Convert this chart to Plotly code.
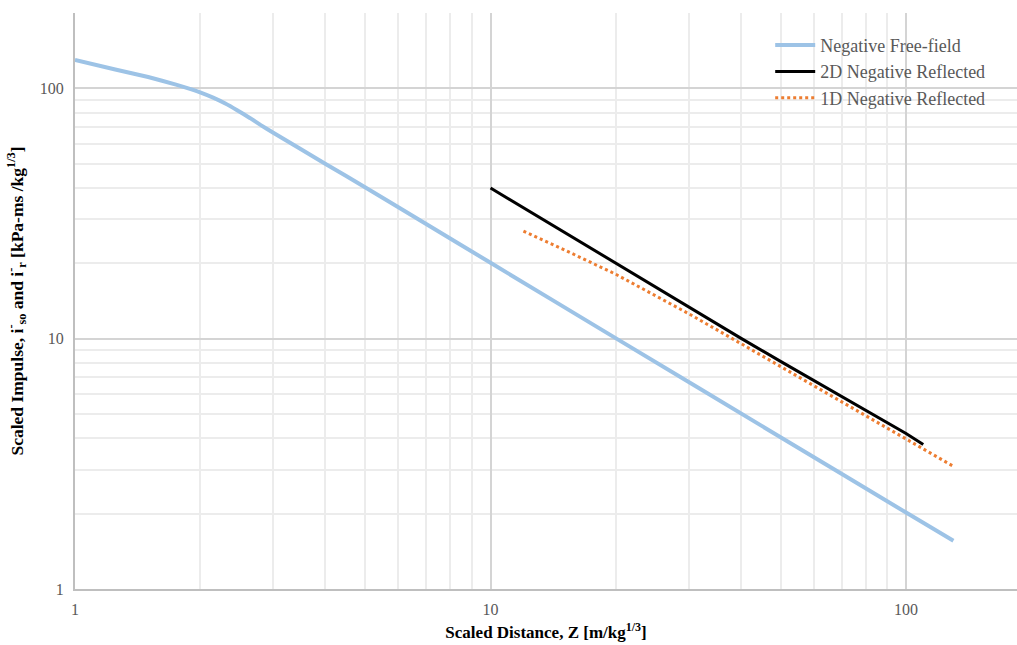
import plotly.graph_objects as go

# Negative free-field
ff_z = [1, 1.25, 1.5, 1.75, 2, 2.15, 2.3, 2.45, 2.64, 2.8, 3, 4, 5, 7, 10, 20, 50, 100, 130]
ff_i = [130, 119, 111, 103.5, 96.4, 91.8, 87, 82, 76, 71.3, 66.5, 50, 40.2, 28.7, 20.1, 10.05, 4.03, 2.02, 1.56]

# 2D negative reflected
r2_z = [10, 20, 30, 40, 50, 60, 70, 80, 90, 100, 110]
r2_i = [40, 20, 13.33, 10.05, 8.1, 6.8, 5.9, 5.2, 4.64, 4.18, 3.78]

# 1D negative reflected
r1_z = [12, 15, 20, 25, 30, 40, 50, 60, 80, 100, 130]
r1_i = [26.9, 22.7, 18.1, 14.88, 12.58, 9.57, 7.72, 6.48, 4.92, 3.97, 3.09]

tick_vals = [1, 10, 100]
tick_text = ["1", "10", "100"]

FONT = "Liberation Serif, Times New Roman, serif"
GREY = "#595959"

fig = go.Figure()
fig.add_trace(go.Scatter(x=ff_z, y=ff_i, mode="lines", name="Negative Free-field",
                         line=dict(color="#9dc3e6", width=4, shape="spline", smoothing=0.3)))
fig.add_trace(go.Scatter(x=r2_z, y=r2_i, mode="lines", name="2D Negative Reflected",
                         line=dict(color="#000000", width=3)))
fig.add_trace(go.Scatter(x=r1_z, y=r1_i, mode="lines", name="1D Negative Reflected",
                         line=dict(color="#ed7d31", width=3, dash="dot")))

axis_common = dict(
    type="log",
    tickvals=tick_vals, ticktext=tick_text,
    showgrid=True, gridcolor="#d4d4d4", gridwidth=1.5,
    minor=dict(showgrid=True, gridcolor="#ececec", gridwidth=1.5, dtick="D1"),
    showline=True, linecolor="#bfbfbf", linewidth=2,
    ticks="", zeroline=False,
    tickfont=dict(family=FONT, size=16, color=GREY),
)

fig.update_layout(
    width=1017, height=645,
    margin=dict(l=75, r=0, t=13, b=56),
    paper_bgcolor="white", plot_bgcolor="white",
    font=dict(family=FONT, size=16, color=GREY),
    xaxis=dict(axis_common, range=[0, 2.267], ticklabelstandoff=5,
               title=dict(text="<b>Scaled Distance, Z [m/kg<sup>1/3</sup>]</b>",
                          font=dict(family=FONT, size=17, color="black"), standoff=9)),
    yaxis=dict(axis_common, range=[0, 2.301], ticklabelstandoff=6,
               title=dict(text="<b>Scaled Impulse, i<sup>-</sup><sub>so</sub> and i<sup>-</sup><sub>r</sub> [kPa-ms /kg<sup>1/3</sup>]</b>",
                          font=dict(family=FONT, size=17.5, color="black"), standoff=12)),
    legend=dict(x=0.738, y=0.976, xanchor="left", yanchor="top",
                bgcolor="rgba(255,255,255,0)", font=dict(family=FONT, size=18, color=GREY),
                itemwidth=40, tracegroupgap=0),
    showlegend=True,
)

fig.write_html("out.html")
